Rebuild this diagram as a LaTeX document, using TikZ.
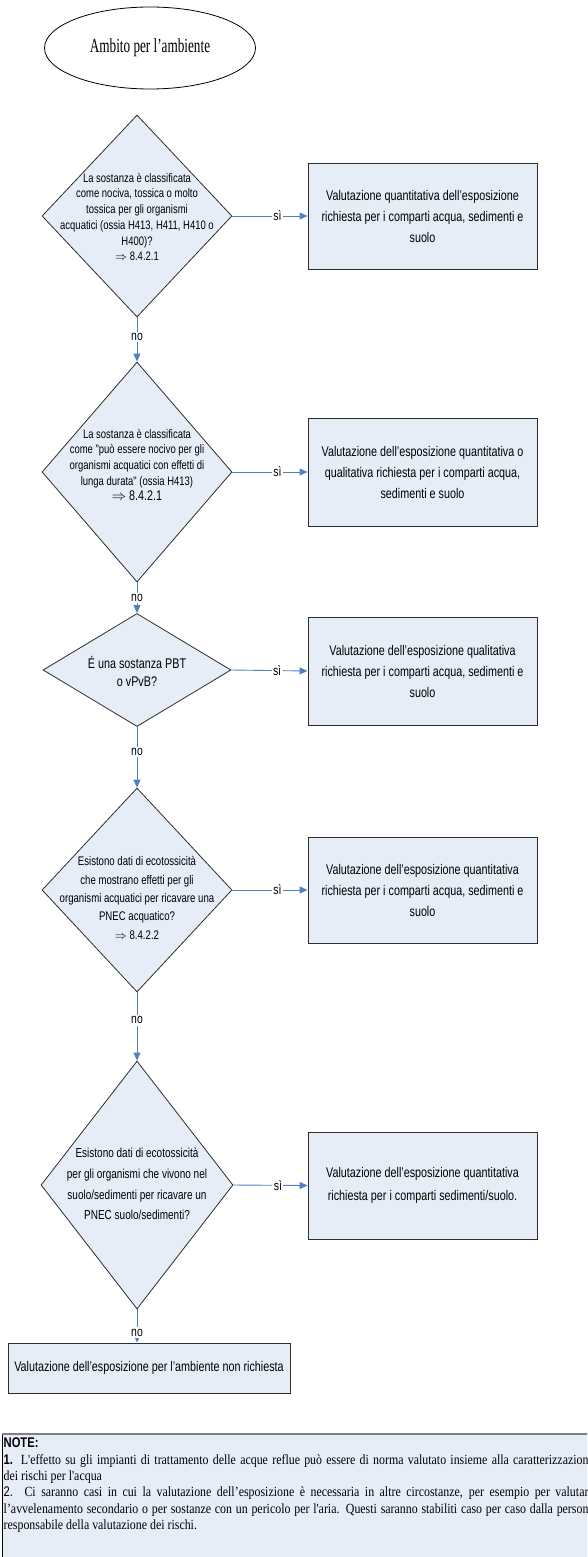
\documentclass[tikz,border=0pt]{standalone}
\usepackage{fontspec}
\usetikzlibrary{shapes.geometric,arrows.meta}

% condensed faces used throughout the chart
\newfontfamily\condsans{Liberation Sans}[FakeStretch=0.77]
\newfontfamily\condserif{Liberation Serif}[FakeStretch=0.66]
\newfontfamily\noteserif{Liberation Serif}[FakeStretch=0.85]
\newfontfamily\notesans{Liberation Sans}[FakeStretch=0.8]

\definecolor{boxfill}{RGB}{231,237,247}
\definecolor{linkblue}{RGB}{79,129,189}
\definecolor{edgegray}{RGB}{45,45,45}

\tikzset{
  decision/.style={diamond, draw=edgegray, fill=boxfill, line width=0.8pt, inner sep=0pt},
  qtext/.style={align=center, inner sep=0pt, font=\condsans\fontsize{12.3}{15.7}\selectfont},
  action/.style={rectangle, draw=edgegray, fill=boxfill, line width=0.9pt,
    minimum width=229pt, minimum height=107pt, align=center, inner sep=0pt,
    font=\condsans\fontsize{14}{21}\selectfont},
  conn/.style={draw=linkblue, line width=0.9pt, -{Triangle[length=8pt,width=7pt]}},
  lab/.style={fill=white, inner sep=1.5pt, text=black, font=\condsans\fontsize{13.5}{14}\selectfont}
}

\begin{document}
\begin{tikzpicture}[x=1pt,y=-1pt]
\useasboundingbox (0,0) rectangle (587,1557);
\clip (0,0) rectangle (587,1557);

% start ellipse
\node[ellipse, draw=black, line width=0.8pt, minimum width=211pt, minimum height=82pt,
      font=\condserif\fontsize{20}{24}\selectfont] (start) at (150,48) {Ambito per l’ambiente};

% decisions
\node[decision, minimum width=190pt, minimum height=202pt] (d1) at (137,216) {};
\node[qtext] (d1t) at (137,217) {La sostanza è classificata\\come nociva, tossica o molto\\tossica per gli organismi\\acquatici (ossia H413, H411, H410 o\\H400)?\\$\Rightarrow$ 8.4.2.1};

\node[decision, minimum width=190pt, minimum height=220pt] (d2) at (137,472) {};
\node[qtext] (d2t) at (137,465) {La sostanza è classificata\\come "può essere nocivo per gli\\organismi acquatici con effetti di\\lunga durata" (ossia H413)\\{\fontsize{14}{16}\selectfont$\Rightarrow$ 8.4.2.1}};

\node[decision, minimum width=188pt, minimum height=113pt] (d3) at (137,670) {};
\node[qtext, font=\condsans\fontsize{14}{18}\selectfont] (d3t) at (137,671) {É una sostanza PBT\\o vPvB?};

\node[decision, minimum width=190pt, minimum height=204pt] (d4) at (137,890) {};
\node[qtext, font=\condsans\fontsize{12.5}{18.3}\selectfont] (d4t) at (137,898) {Esistono dati di ecotossicità\\che mostrano effetti per gli\\organismi acquatici per ricavare una\\PNEC acquatico?\\$\Rightarrow$ 8.4.2.2};

\node[decision, minimum width=192pt, minimum height=248pt] (d5) at (137,1185) {};
\node[qtext, font=\condsans\fontsize{13}{20.7}\selectfont] (d5t) at (137,1184) {Esistono dati di ecotossicità\\per gli organismi che vivono nel\\suolo/sedimenti per ricavare un\\PNEC suolo/sedimenti?};

% outcomes
\node[action, minimum height=106pt] (b1) at (422.5,216) {Valutazione quantitativa dell’esposizione\\richiesta per i comparti acqua, sedimenti e\\suolo};
\node[action, minimum height=108pt] (b2) at (422.5,472) {Valutazione dell’esposizione quantitativa o\\qualitativa richiesta per i comparti acqua,\\sedimenti e suolo};
\node[action, minimum height=108pt] (b3) at (422.5,671) {Valutazione dell’esposizione qualitativa\\richiesta per i comparti acqua, sedimenti e\\suolo};
\node[action, minimum height=106pt] (b4) at (422.5,890) {Valutazione dell’esposizione quantitativa\\richiesta per i comparti acqua, sedimenti e\\suolo};
\node[action, minimum height=107pt, font=\condsans\fontsize{14}{23}\selectfont] (b5) at (422.5,1185.5) {Valutazione dell’esposizione quantitativa\\richiesta per i comparti sedimenti/suolo.};
\node[action, minimum width=282pt, minimum height=50pt] (b6) at (149,1368) {Valutazione dell’esposizione per l’ambiente non richiesta};

% "sì" branches
\draw[conn] (d1.east) -- node[lab, pos=.6] {sì} (b1.west);
\draw[conn] (d2.east) -- node[lab, pos=.6] {sì} (b2.west);
\draw[conn] (d3.east) -- node[lab, pos=.6] {sì} (b3.west);
\draw[conn] (d4.east) -- node[lab, pos=.6] {sì} (b4.west);
\draw[conn] (d5.east) -- node[lab, pos=.6] {sì} (b5.west);

% "no" branches
\draw[conn] (d1.south) -- node[lab, pos=.44] {no} (d2.north);
\draw[conn] (d2.south) -- node[lab, pos=.5] {no} (d3.north);
\draw[conn] (d3.south) -- node[lab, pos=.41] {no} (d4.north);
\draw[conn] (d4.south) -- node[lab, pos=.41] {no} (d5.north);
\draw[conn] (d5.south) -- node[lab, pos=.7] {no} (d5.south |- b6.north);

% notes panel
\fill[boxfill] (2,1434) rectangle (600,1562);
\draw[black, line width=0.8pt] (2.4,1434) -- (2.4,1562);
\draw[gray, line width=2pt] (2,1434) -- (600,1434);
\node[anchor=north west, inner sep=0pt, align=left,
      font=\noteserif\fontsize{14}{16.3}\selectfont] (notes) at (3.5,1438) {%
{\notesans\bfseries NOTE:}\\
\makebox[590pt][s]{{\notesans\bfseries 1.} L'effetto su gli impianti di trattamento delle acque reflue può essere di norma valutato insieme alla caratterizzazione}\\
dei rischi per l'acqua\\
\makebox[590pt][s]{{\notesans 2.} Ci saranno casi in cui la valutazione dell’esposizione è necessaria in altre circostanze, per esempio per valutare}\\
\makebox[590pt][s]{l’avvelenamento secondario o per sostanze con un pericolo per l'aria. Questi saranno stabiliti caso per caso dalla persona}\\
responsabile della valutazione dei rischi.};
\end{tikzpicture}
\end{document}
